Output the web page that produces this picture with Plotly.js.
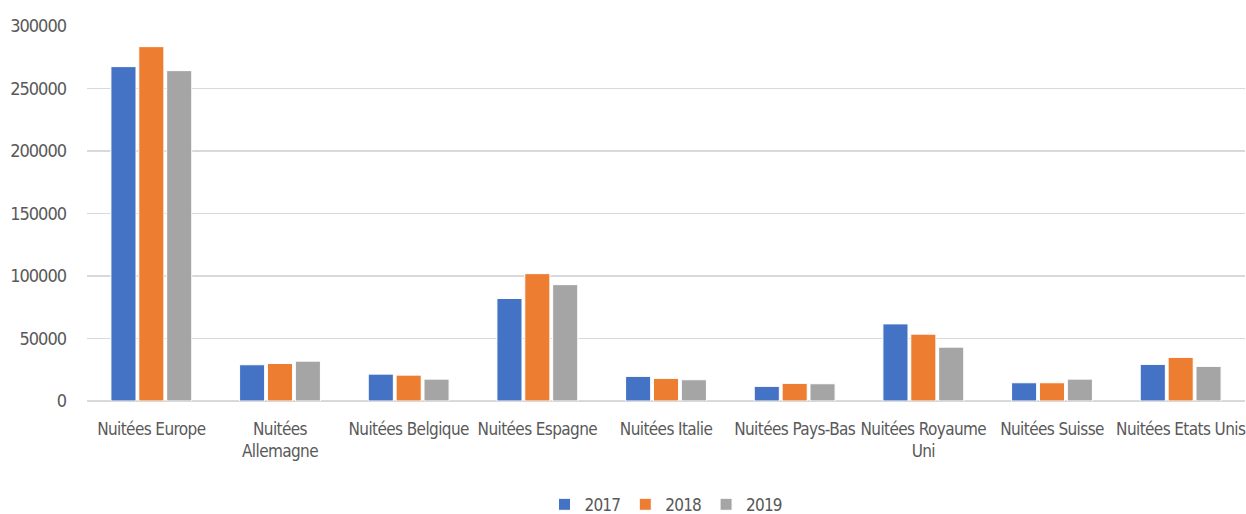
<!DOCTYPE html>
<html><head><meta charset="utf-8">
<script src="https://cdn.plot.ly/plotly-3.0.1.min.js"></script>
<style>html,body{margin:0;padding:0;background:#fff}#c{width:1246px;height:514px}
svg text{font-stretch:condensed !important;}
.xtick text{letter-spacing:-0.6px;}
.ytick text{letter-spacing:-1px;}
.legendtext{letter-spacing:-0.8px;}</style>
</head><body><div id="c"></div>
<script>
const categories = ["Nuitées Europe","Nuitées<br>Allemagne","Nuitées Belgique","Nuitées Espagne","Nuitées Italie","Nuitées Pays-Bas","Nuitées Royaume<br>Uni","Nuitées Suisse","Nuitées Etats Unis"];
const v2017 = [267500, 29000, 21500, 82000, 19700, 11700, 61700, 14600, 29300];
const v2018 = [283500, 30000, 20700, 101900, 18100, 14100, 53500, 14600, 34900];
const v2019 = [264300, 31900, 17500, 93100, 17000, 13800, 43100, 17500, 27700];
const tickVals = [0, 50000, 100000, 150000, 200000, 250000, 300000];
const tickText = ["0","50000","100000","150000","200000","250000","300000"];

const FONT = '"DejaVu Sans Condensed", "Liberation Sans Narrow", sans-serif';
function tr(name, y, color){
  return {type:'bar', name:name, x:categories, y:y,
    marker:{color:color, line:{color:'#ffffff', width:1}}, hoverinfo:'none'};
}
const data = [tr('2017', v2017, '#4472c4'), tr('2018', v2018, '#ed7d31'), tr('2019', v2019, '#a5a5a5')];
const layout = {
  width:1246, height:514,
  margin:{l:87, r:1, t:26, b:113, autoexpand:false},
  paper_bgcolor:'#fff', plot_bgcolor:'#fff',
  barmode:'group', bargap:0.35, bargroupgap:0.1,
  font:{family:FONT, color:'#595959', size:17},
  xaxis:{type:'category', showgrid:false, showline:false, zeroline:false, ticks:'', tickangle:0, ticklabelstandoff:16,
    tickfont:{size:17, color:'#595959', family:FONT}, automargin:false},
  yaxis:{range:[0,300000], tickvals:tickVals, ticktext:tickText, showgrid:true, gridcolor:'#d9d9d9', gridwidth:1.5,
    zeroline:true, zerolinecolor:'#d9d9d9', zerolinewidth:1.5, showline:false, ticks:'', ticklabelstandoff:20,
    tickfont:{size:18, color:'#595959', family:FONT}, automargin:false},
  legend:{orientation:'h', x:0.5, xanchor:'center', yref:'container', y:0.018, yanchor:'middle', font:{size:17, color:'#595959', family:FONT}, traceorder:'normal', itemwidth:30},
  showlegend:true
};
Plotly.newPlot('c', data, layout, {staticPlot:true, displayModeBar:false});
</script></body></html>
